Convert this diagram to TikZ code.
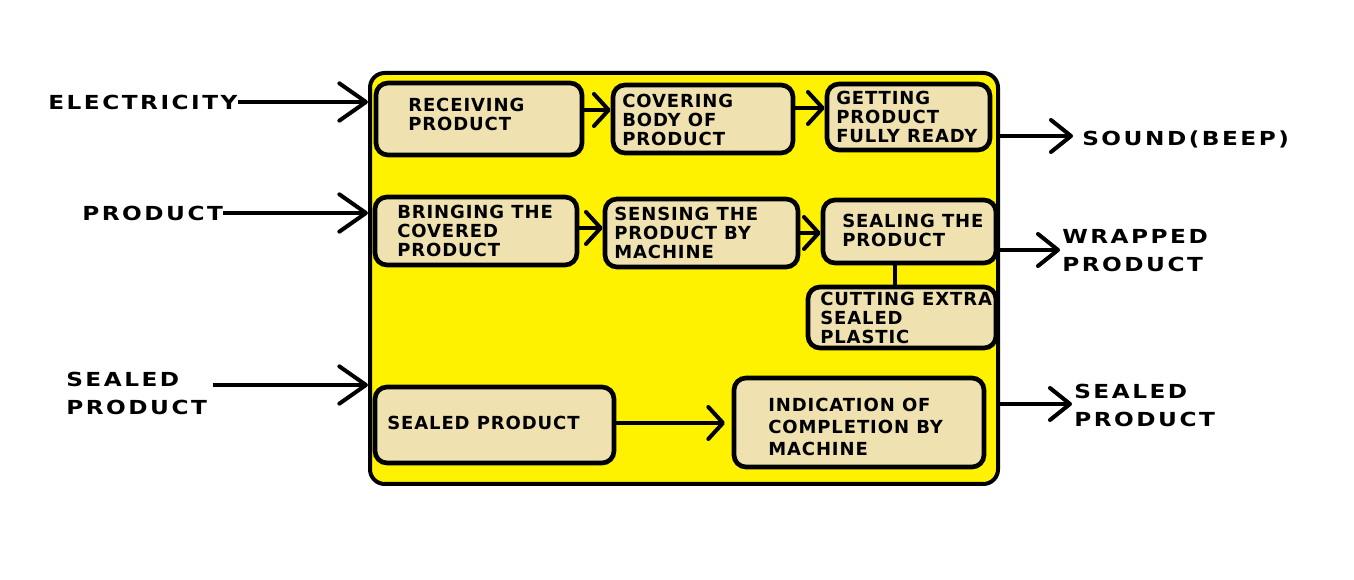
\documentclass[tikz,border=0pt]{standalone}
\usepackage{fontspec}
\usetikzlibrary{arrows.meta}
\newfontfamily\innerf[LetterSpace=5]{DejaVu Sans}
\newfontfamily\outerf[LetterSpace=13,FakeStretch=1.2]{DejaVu Sans}
\definecolor{boxyellow}{RGB}{255,242,0}
\definecolor{boxbeige}{RGB}{239,226,176}
\begin{document}
\begin{tikzpicture}[x=0.75pt,y=-0.75pt,
 stage/.style={draw=black, line width=3.5pt, fill=boxbeige, rounded corners=9pt, inner sep=0pt},
 intext/.style={anchor=west, align=left, inner sep=0pt, font=\innerf\bfseries\fontsize{13.5}{14.25}\selectfont},
 outtext/.style={anchor=west, align=left, inner sep=0pt, font=\outerf\bfseries\fontsize{14.5}{21}\selectfont},
 flow/.style={line width=3pt, -{Straight Barb[length=11pt,width=24pt,round]}},
 bigflow/.style={line width=3pt, -{Straight Barb[length=20pt,width=28pt,round]}},
 outflow/.style={line width=3pt, -{Straight Barb[length=15pt,width=24pt,round]}},
 link/.style={line width=3pt}
]
\useasboundingbox (0,0) rectangle (1354,580);
\node[draw, line width=3pt, fill=boxyellow, rounded corners=11pt, minimum width=471pt, minimum height=308.25pt, inner sep=0pt] (outer) at (684,278.5) {};

% stage boxes
\node[stage, minimum width=154.5pt, minimum height=54pt] (b1) at (479,119) {};
\node[stage, minimum width=135pt, minimum height=51pt] (b2) at (703,119) {};
\node[stage, minimum width=122.25pt, minimum height=49.5pt] (b3) at (908.5,117) {};
\node[stage, minimum width=151.5pt, minimum height=51pt] (b4) at (476,231) {};
\node[stage, minimum width=144.75pt, minimum height=51pt] (b5) at (701.5,233) {};
\node[stage, minimum width=129.75pt, minimum height=47.25pt] (b6) at (909.5,231.5) {};
\node[stage, minimum width=141pt, minimum height=45.75pt] (b7) at (902,317.5) {};
\node[stage, minimum width=179.25pt, minimum height=57pt] (b8) at (494.5,425) {};
\node[stage, minimum width=187.5pt, minimum height=66.75pt] (b9) at (859,422.5) {};

% texts in boxes
\node[intext] (t1) at (408,114.5) {RECEIVING\\PRODUCT};
\node[intext] (t2) at (622,120) {COVERING\\BODY OF\\PRODUCT};
\node[intext] (t3) at (836,117) {GETTING\\PRODUCT\\FULLY READY};
\node[intext] (t4) at (397,231) {BRINGING THE\\COVERED\\PRODUCT};
\node[intext] (t5) at (614,233) {SENSING THE\\PRODUCT BY\\MACHINE};
\node[intext] (t6) at (842,230.5) {SEALING THE\\PRODUCT};
\node[intext] (t7) at (820,318) {CUTTING EXTRA\\SEALED\\PLASTIC};
\node[intext] (t8) at (387,423) {SEALED PRODUCT};
\node[intext, font=\innerf\bfseries\fontsize{13.5}{16.5}\selectfont] (t9) at (768,427) {INDICATION OF\\COMPLETION BY\\MACHINE};

% outside labels
\node[outtext] (elec) at (48,102) {ELECTRICITY};
\node[outtext] (prod) at (82,213) {PRODUCT};
\node[outtext] (sealin) at (66,393) {SEALED\\PRODUCT};
\node[outtext] (beep) at (1082,139) {SOUND(BEEP)};
\node[outtext] (wrap) at (1062,251) {WRAPPED\\PRODUCT};
\node[outtext] (sealout) at (1074,405) {SEALED\\PRODUCT};

% helper coordinates
\coordinate (a12) at (0,110);
\coordinate (a23) at (0,108);
\coordinate (a45) at (0,228);
\coordinate (a56) at (0,233);
\coordinate (a89) at (0,423);
\coordinate (v67) at (895,0);
\coordinate (spIn) at (213,385);
\coordinate (beepTip) at (1073,136);
\coordinate (wrapTip) at (1060,250);
\coordinate (sealTip) at (1072,404);

% inner flows
\draw[flow] (b1.east |- a12) -- (b2.west |- a12);
\draw[flow] (b2.east |- a23) -- (b3.west |- a23);
\draw[flow] (b4.east |- a45) -- (b5.west |- a45);
\draw[flow] (b5.east |- a56) -- (b6.west |- a56);
\draw[flow, shorten >=5pt] (b8.east |- a89) -- (b9.west |- a89);
\draw[link] (b6.south -| v67) -- (b7.north -| v67);

% inputs
\draw[bigflow] (elec.east) -- (elec.east -| outer.west);
\draw[bigflow] (prod.east) -- (prod.east -| outer.west);
\draw[bigflow] (spIn) -- (spIn -| outer.west);

% outputs
\draw[outflow] (beepTip -| outer.east) -- (beepTip);
\draw[outflow] (wrapTip -| outer.east) -- (wrapTip);
\draw[outflow] (sealTip -| outer.east) -- (sealTip);
\end{tikzpicture}
\end{document}
